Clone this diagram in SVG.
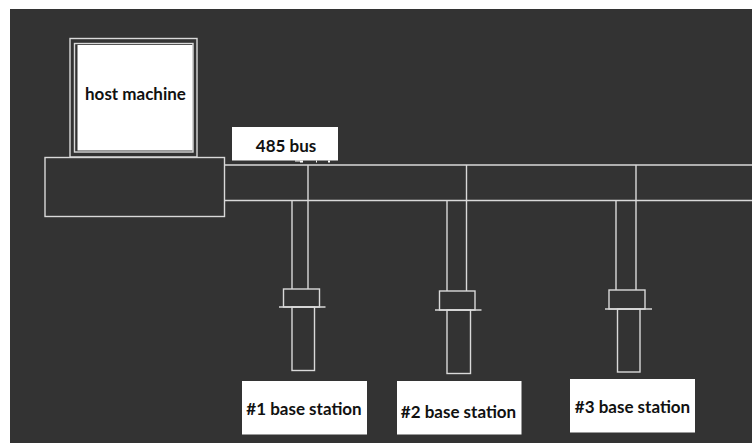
<svg xmlns="http://www.w3.org/2000/svg" width="752" height="443" viewBox="0 0 752 443">
<style>
.l{fill:none;stroke:#d9d9d9;stroke-width:1.4}
.f{fill:#333;stroke:#d9d9d9;stroke-width:1.4}
.b{fill:#fff;stroke:none}
text{font-family:"Lato","Liberation Sans",sans-serif;font-weight:700;font-size:17px;fill:#111;text-anchor:middle}
</style>
<rect width="752" height="443" fill="#fff"/>
<rect x="10" y="9" width="742" height="434" fill="#333"/>
<g id="connectors">
<path class="l" d="M224.500 165H752M224.500 200.500H752"/>
<path class="l" d="M308 165V289M292 200.500V289M466.500 165V291M447 200.500V291M636 165V290M616 200.500V290"/>
</g>
<g id="host-machine">
<rect class="l" x="70" y="38.500" width="127" height="118.500"/>
<rect class="f" x="74.500" y="43.500" width="118.500" height="108.500"/>
<rect class="b" x="77.500" y="45" width="115" height="105.500"/>
<text x="135.500" y="100">host machine</text>
</g>
<g id="host-base"><rect class="f" x="45" y="157.500" width="179.500" height="59"/></g>
<g id="bus-label">
<rect class="b" x="232" y="127" width="106" height="33.500"/>
<path d="M295 160.500h8v2h-3v-1h-5zM316 160.500h1v2h-1zM328 160.500h2v2h-2z" fill="#fff"/>
<text x="286" y="152">485 bus</text>
</g>
<g id="station-1">
<rect class="l" x="283.500" y="289" width="36" height="18"/>
<path class="l" d="M279 307H325.500"/>
<rect class="l" x="292" y="307" width="22.500" height="63.500"/>
<rect class="b" x="242" y="381" width="125" height="53.500"/>
<text x="304" y="415">#1 base station</text>
</g>
<g id="station-2">
<rect class="l" x="439.500" y="291" width="35.500" height="19"/>
<path class="l" d="M435 310H481.500"/>
<rect class="l" x="447" y="310" width="23.500" height="63.500"/>
<rect class="b" x="397" y="381" width="124.500" height="53.500"/>
<text x="458.500" y="418">#2 base station</text>
</g>
<g id="station-3">
<rect class="l" x="609" y="290" width="36" height="19"/>
<path class="l" d="M605 309H652"/>
<rect class="l" x="617.500" y="309" width="22.500" height="63"/>
<rect class="b" x="570" y="379" width="125" height="53.500"/>
<text x="632.500" y="413">#3 base station</text>
</g>
</svg>
